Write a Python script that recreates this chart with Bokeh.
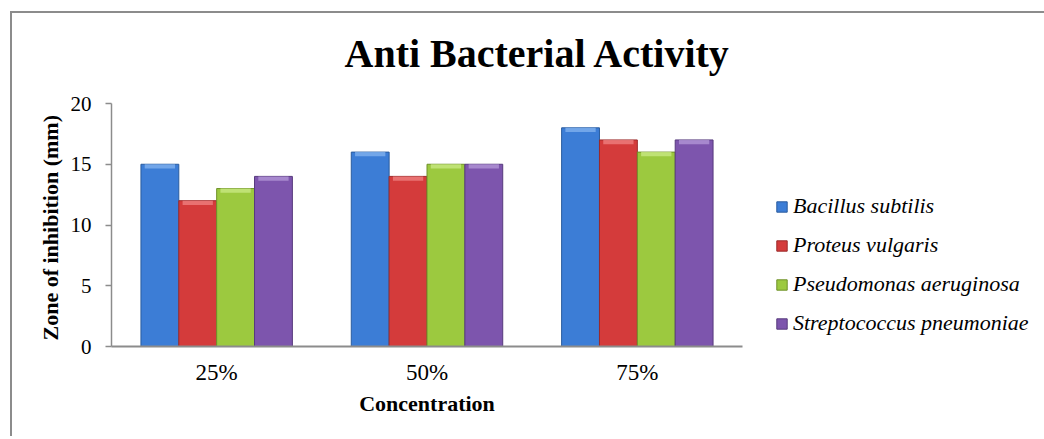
from bokeh.plotting import figure
from bokeh.models import (ColumnDataSource, FactorRange, Legend, LegendItem,
                          FixedTicker)
from bokeh.transform import dodge
from bokeh.embed import file_html
from bokeh.resources import INLINE

# ---- data ----
concentrations = ["25%", "50%", "75%"]
bacillus = [15, 16, 18]
proteus = [12, 14, 17]
pseudomonas = [13, 15, 16]
streptococcus = [14, 15, 17]
series_names = ["Bacillus subtilis", "Proteus vulgaris",
                "Pseudomonas aeruginosa", "Streptococcus pneumoniae"]
y_ticks = [0, 5, 10, 15, 20]

series_values = [bacillus, proteus, pseudomonas, streptococcus]
fills = ["#3c7dd6", "#d43b3b", "#9cc93f", "#7d55ad"]
lines = ["#2a5c9e", "#9c2a2a", "#6f9128", "#573a7d"]
tops = ["#7fb0ee", "#ee8080", "#c8e882", "#b295d6"]
offsets = [-0.27, -0.09, 0.09, 0.27]
bar_w = 0.18

SERIF = "Liberation Serif"

p = figure(x_range=FactorRange(factors=concentrations, range_padding=0),
           y_range=(0, 20), frame_width=631, frame_height=243,
           output_backend="svg", toolbar_location=None,
           min_border_left=111, min_border_right=294,
           min_border_top=103, min_border_bottom=90,
           title="Anti Bacterial Activity")
p.outline_line_color = None
p.grid.grid_line_color = None
p.background_fill_color = "white"
p.border_fill_color = None
# chart-area border (top and left edges) drawn as the element's CSS background
p.styles = {
    "background-color": "white",
    "background-image": "linear-gradient(#8c8c8c, #8c8c8c), linear-gradient(#8c8c8c, #8c8c8c)",
    "background-size": "100% 2px, 2px 100%",
    "background-position": "10px 11px, 10px 11px",
    "background-repeat": "no-repeat",
}

p.title.text_font = SERIF
p.title.text_font_style = "bold"
p.title.text_font_size = "40px"
p.title.text_color = "black"
p.title.align = "left"
p.title.offset = 233
p.title.standoff = 55

src = ColumnDataSource(dict(cat=concentrations,
                            s0=bacillus, s1=proteus, s2=pseudomonas, s3=streptococcus,
                            t0=[v - 0.35 for v in bacillus],
                            t1=[v - 0.35 for v in proteus],
                            t2=[v - 0.35 for v in pseudomonas],
                            t3=[v - 0.35 for v in streptococcus]))

renderers = []
for i in range(4):
    r = p.vbar(x=dodge("cat", offsets[i], range=p.x_range), top="s%d" % i, bottom=0,
               width=bar_w, source=src, fill_color=fills[i], line_color=lines[i],
               line_width=1)
    p.vbar(x=dodge("cat", offsets[i], range=p.x_range), top="s%d" % i, bottom="t%d" % i,
           width=bar_w * 0.8, source=src, fill_color=tops[i], line_color=None,
           fill_alpha=0.8)
    renderers.append(r)

# axes
ax = p.xaxis[0]
ax.axis_line_color = "#8c8c8c"
ax.axis_line_width = 2
ax.major_tick_line_color = None
ax.major_tick_out = 0
ax.minor_tick_line_color = None
ax.major_label_text_font = SERIF
ax.major_label_text_font_size = "23px"
ax.major_label_text_color = "black"
ax.major_label_standoff = 13
ax.axis_label = "Concentration"
ax.axis_label_text_font = SERIF
ax.axis_label_text_font_style = "bold"
ax.axis_label_text_font_size = "22px"
ax.axis_label_text_color = "black"
ax.axis_label_standoff = 3

ay = p.yaxis[0]
ay.ticker = FixedTicker(ticks=y_ticks)
ay.axis_line_color = "#8c8c8c"
ay.axis_line_width = 1.5
ay.major_tick_line_color = "#8c8c8c"
ay.major_tick_line_width = 1.5
ay.major_tick_out = 6
ay.major_tick_in = 0
ay.minor_tick_line_color = None
ay.major_label_text_font = SERIF
ay.major_label_text_font_size = "21px"
ay.major_label_text_color = "black"
ay.major_label_standoff = 14
ay.axis_label = "Zone of inhibition  (mm)"
ay.axis_label_text_font = SERIF
ay.axis_label_text_font_style = "bold"
ay.axis_label_text_font_size = "22px"
ay.axis_label_text_color = "black"
ay.axis_label_standoff = 5

# legend in the right-hand panel
legend = Legend(items=[LegendItem(label=series_names[i], renderers=[renderers[i]])
                       for i in range(4)],
                location=(33, 10), orientation="vertical",
                border_line_color=None, background_fill_alpha=0,
                padding=0, margin=0, spacing=13,
                glyph_width=13, glyph_height=13, label_height=25,
                label_standoff=5,
                label_text_font=SERIF, label_text_font_style="italic",
                label_text_font_size="22px", label_text_color="black")
p.add_layout(legend, "right")

open("out.html", "w").write(file_html(p, INLINE))
